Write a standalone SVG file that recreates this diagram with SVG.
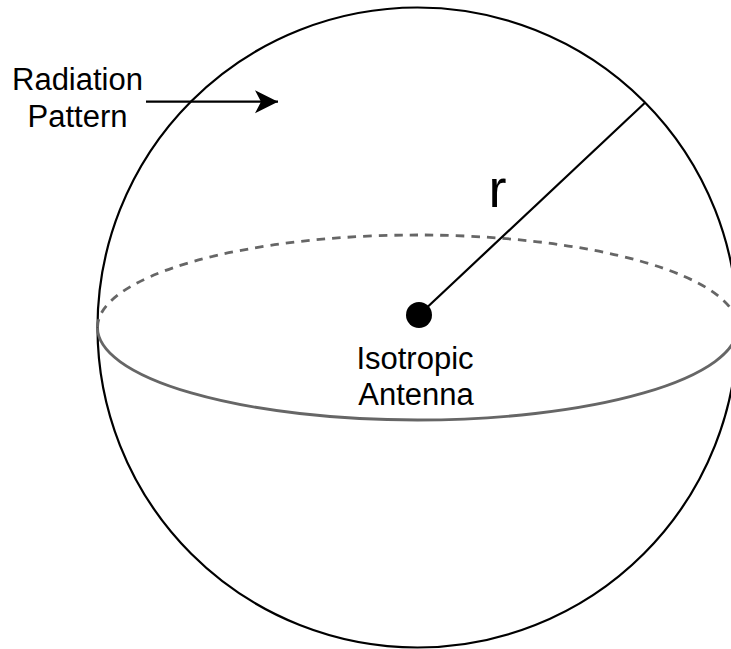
<svg xmlns="http://www.w3.org/2000/svg" width="731" height="649" viewBox="0 0 731 649">
  <style>
    .lbl { font-family: "Liberation Sans", Arial, Helvetica, sans-serif; fill: #000; text-anchor: middle; }
    .eq { fill: none; stroke: #666666; stroke-width: 2.8; }
  </style>
  <defs>
    <marker id="arrow" markerUnits="userSpaceOnUse" markerWidth="26" markerHeight="26" refX="24" refY="12" orient="auto">
      <path d="M24,12 L1,0.5 L7,12 L1,23.5 Z" fill="#000"/>
    </marker>
  </defs>
  <rect width="731" height="649" fill="#ffffff"/>
  <g id="sphere">
    <circle cx="417.5" cy="327.5" r="320" fill="none" stroke="#000" stroke-width="2.2"/>
  </g>
  <g id="equator">
    <path class="eq" d="M97.5,327.5 A320,92.5 0 0 1 737.5,327.5" stroke-dasharray="8.5 7"/>
    <path class="eq" d="M97.5,327.5 A320,92.5 0 0 0 737.5,327.5"/>
  </g>
  <g id="connectors">
    <line x1="419" y1="315" x2="645" y2="102.7" stroke="#000" stroke-width="2.2"/>
    <line x1="146" y1="101.7" x2="278" y2="101.7" stroke="#000" stroke-width="2.2" marker-end="url(#arrow)"/>
  </g>
  <g id="antenna">
    <circle cx="419" cy="315" r="13" fill="#000"/>
    <text class="lbl" x="415" y="369.3" font-size="31">Isotropic</text>
    <text class="lbl" x="416" y="405" font-size="31">Antenna</text>
  </g>
  <g id="radius-label">
    <text class="lbl" x="497.5" y="207" font-size="54">r</text>
  </g>
  <g id="radiation-label">
    <text class="lbl" x="77.5" y="90" font-size="31">Radiation</text>
    <text class="lbl" x="77.5" y="126.7" font-size="31">Pattern</text>
  </g>
</svg>
